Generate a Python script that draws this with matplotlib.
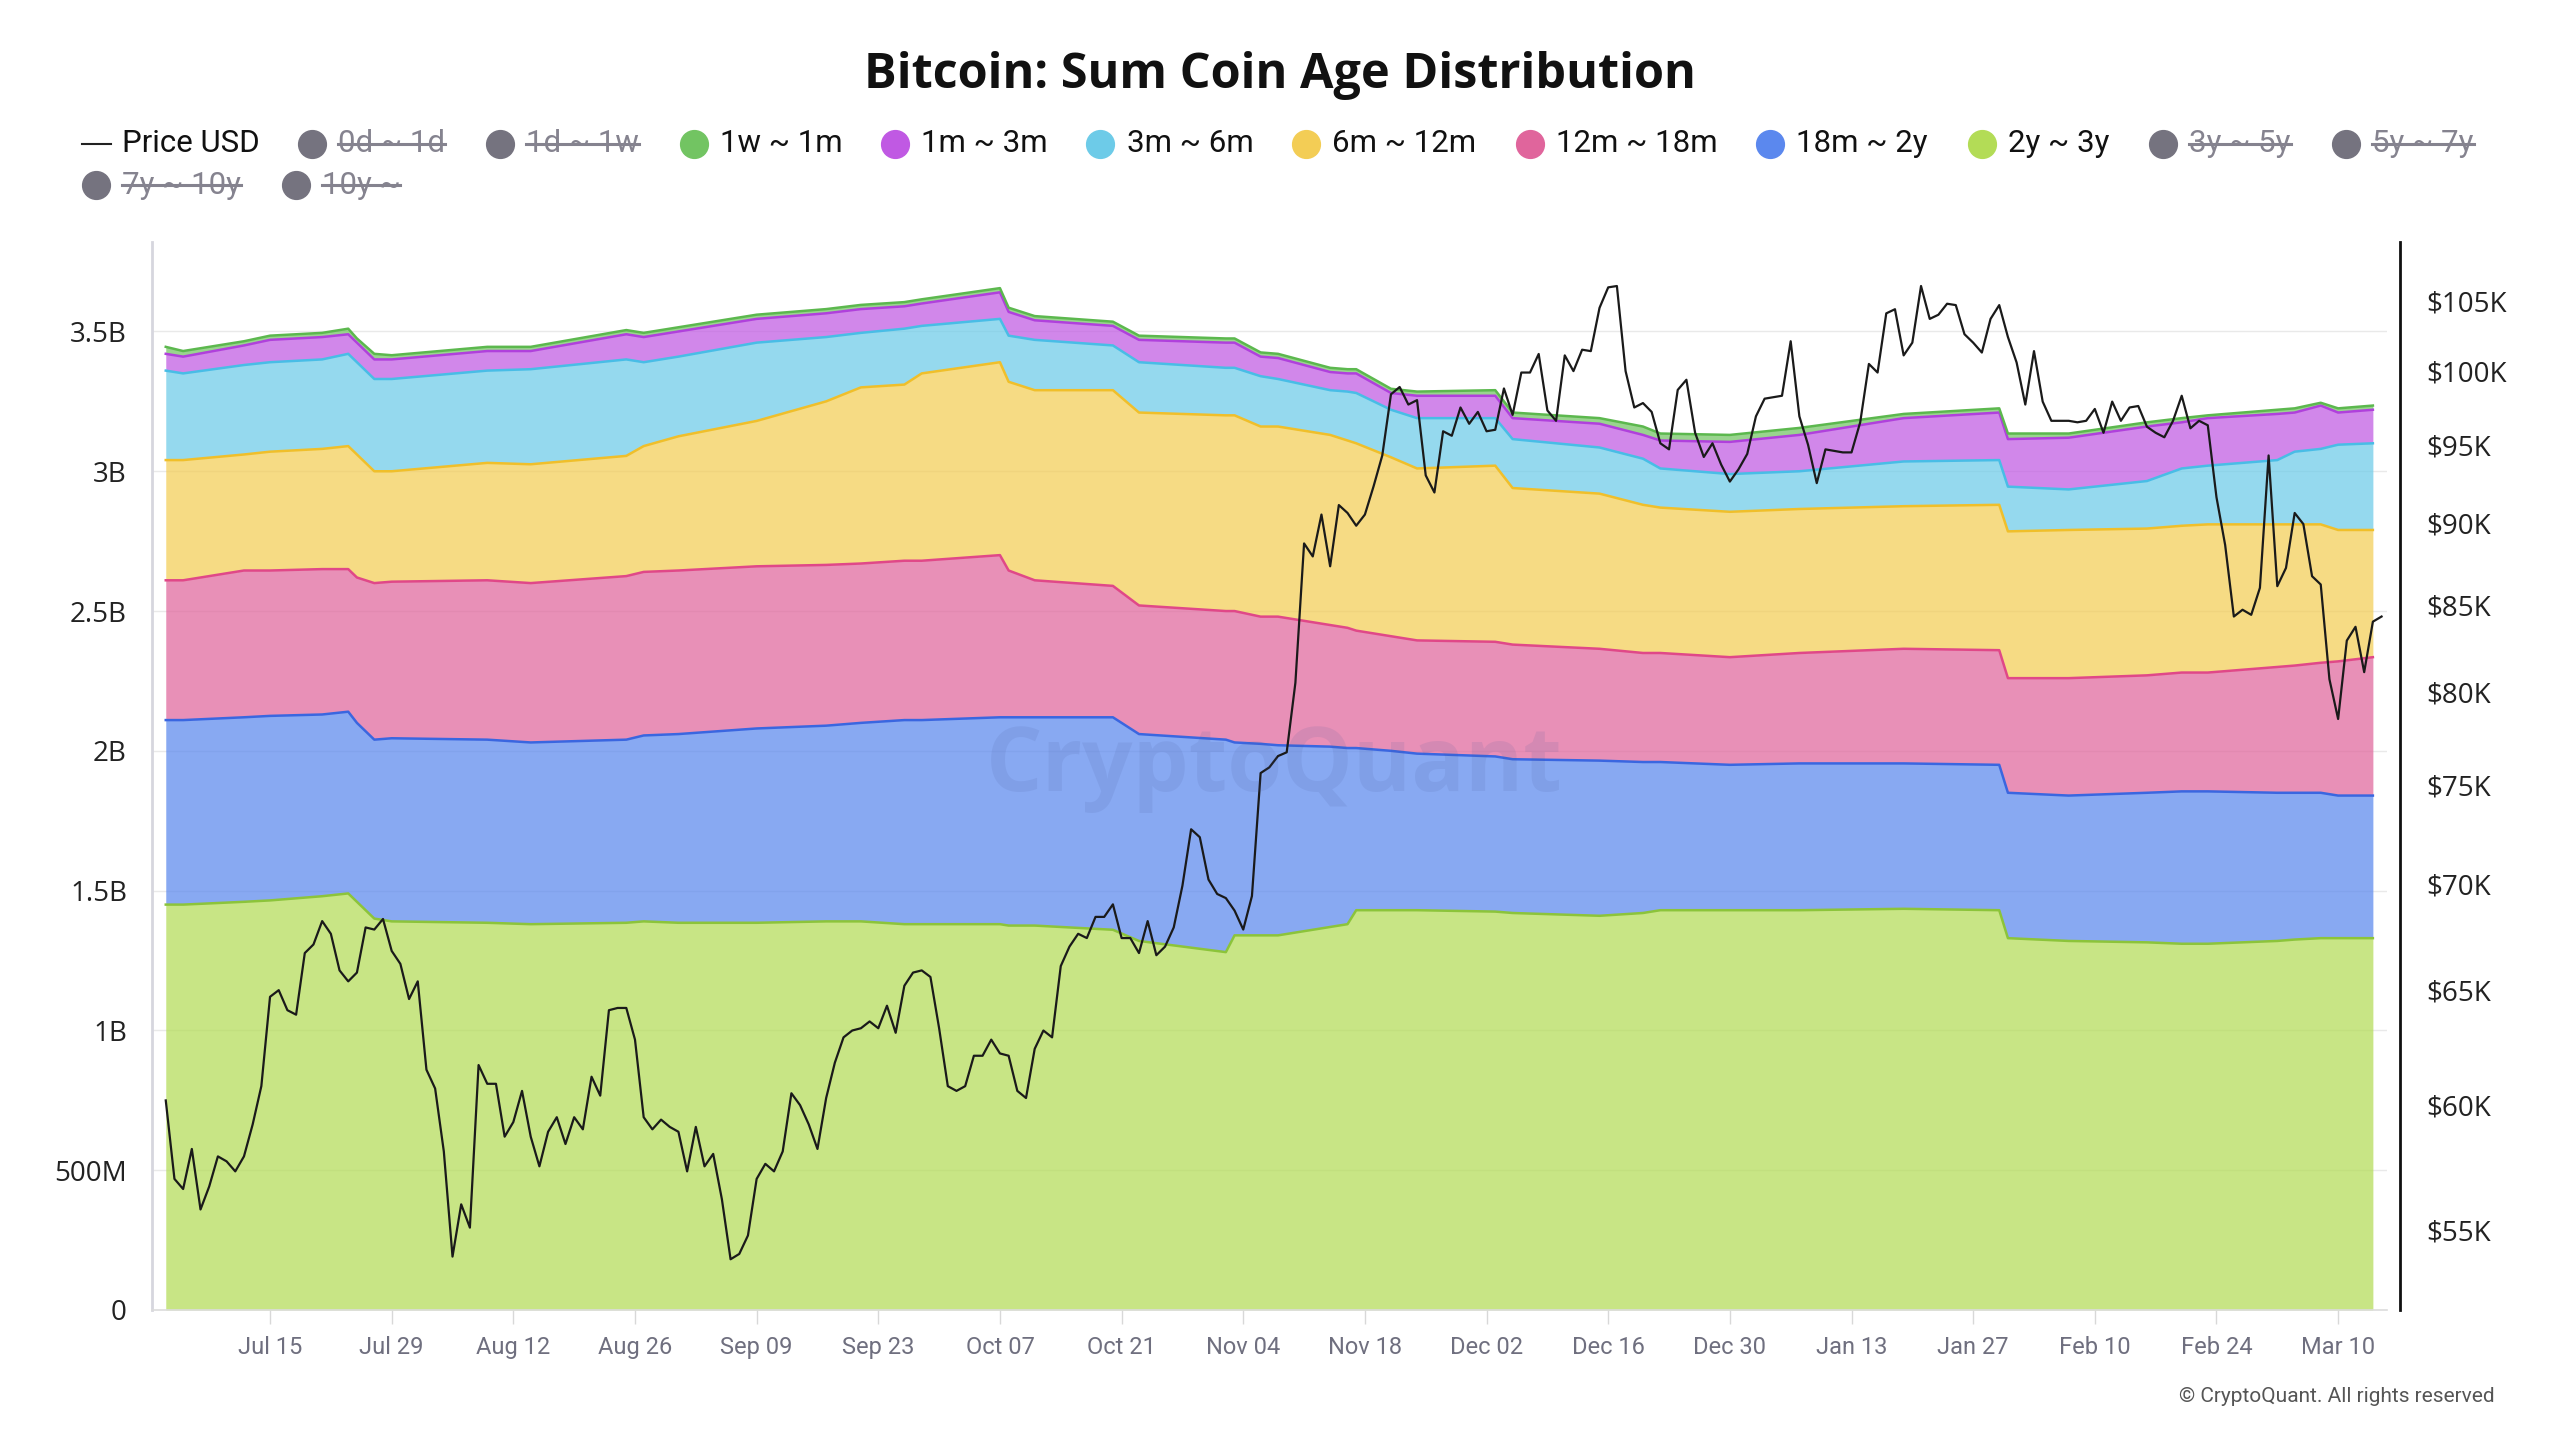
import numpy as np
import pandas as pd
import matplotlib
matplotlib.use("Agg")
import matplotlib.pyplot as plt
from matplotlib import font_manager
from matplotlib.lines import Line2D
from matplotlib.transforms import IdentityTransform
from matplotlib.ticker import NullLocator

# --- data: coin age bands (billions) ---
area_dates = ['2024-07-03', '2024-07-05', '2024-07-12', '2024-07-15', '2024-07-21', '2024-07-24',
              '2024-07-25', '2024-07-27', '2024-07-29', '2024-08-09', '2024-08-14', '2024-08-25',
              '2024-08-27', '2024-08-31', '2024-09-09', '2024-09-17', '2024-09-21', '2024-09-26',
              '2024-09-28', '2024-10-07', '2024-10-08', '2024-10-11', '2024-10-20', '2024-10-23',
              '2024-11-02', '2024-11-03', '2024-11-06', '2024-11-08', '2024-11-14', '2024-11-16',
              '2024-11-17', '2024-11-21', '2024-11-24', '2024-12-03', '2024-12-05', '2024-12-15',
              '2024-12-20', '2024-12-22', '2024-12-30', '2025-01-07', '2025-01-19', '2025-01-30',
              '2025-01-31', '2025-02-07', '2025-02-16', '2025-02-20', '2025-02-23', '2025-03-03',
              '2025-03-05', '2025-03-08', '2025-03-10', '2025-03-14']

band_2y_3y = [1.45, 1.45, 1.46, 1.465, 1.48, 1.49, 1.46, 1.40, 1.39, 1.385, 1.38, 1.385, 1.39,
              1.385, 1.385, 1.39, 1.39, 1.38, 1.38, 1.38, 1.375, 1.375, 1.36, 1.32, 1.28, 1.34,
              1.34, 1.34, 1.37, 1.38, 1.43, 1.43, 1.43, 1.425, 1.42, 1.41, 1.42, 1.43, 1.43, 1.43,
              1.435, 1.43, 1.33, 1.32, 1.315, 1.31, 1.31, 1.32, 1.325, 1.33, 1.33, 1.33]
band_18m_2y = [.66, .66, .66, .66, .65, .65, .64, .64, .655, .655, .65, .655, .665, .675, .695,
               .70, .71, .73, .73, .74, .745, .745, .76, .74, .76, .69, .685, .68, .645, .63, .58,
               .57, .56, .555, .55, .555, .54, .53, .52, .525, .52, .52, .52, .52, .535, .545, .545,
               .53, .525, .52, .51, .51]
band_12m_18m = [.50, .50, .525, .52, .52, .51, .52, .56, .56, .57, .57, .585, .585, .585, .58,
                .575, .57, .57, .57, .58, .525, .49, .47, .46, .46, .47, .455, .46, .435, .43, .42,
                .41, .405, .41, .41, .40, .39, .39, .385, .395, .41, .41, .41, .42, .42, .425, .425,
                .45, .455, .465, .48, .495]
band_6m_12m = [.43, .43, .415, .425, .43, .44, .44, .40, .395, .42, .425, .43, .45, .48, .52, .585,
               .63, .63, .67, .69, .675, .68, .70, .69, .70, .70, .68, .68, .68, .67, .67, .64,
               .615, .63, .56, .555, .53, .52, .52, .515, .51, .52, .525, .53, .525, .525, .53,
               .51, .505, .495, .47, .455]
band_3m_6m = [.32, .31, .32, .32, .32, .33, .33, .33, .33, .33, .34, .345, .30, .285, .28, .23,
              .195, .20, .17, .155, .165, .18, .16, .18, .17, .17, .18, .17, .16, .175, .18, .17,
              .18, .17, .175, .165, .165, .14, .135, .135, .16, .16, .16, .145, .17, .205, .21,
              .23, .26, .27, .305, .31]
band_1m_3m = [.06, .06, .07, .08, .08, .07, .07, .07, .07, .07, .065, .09, .09, .09, .085, .085,
              .085, .08, .08, .095, .085, .07, .07, .08, .09, .09, .07, .075, .065, .065, .07, .06,
              .08, .08, .075, .085, .085, .10, .115, .13, .155, .17, .17, .185, .195, .165, .17,
              .165, .14, .155, .115, .12]
band_1w_1m = [.025, .02, .015, .015, .015, .02, .015, .02, .015, .015, .015, .015, .015, .015,
              .015, .015, .015, .015, .015, .015, .015, .015, .015, .015, .015, .015, .015, .015,
              .015, .015, .015, .015, .015, .02, .02, .02, .03, .025, .025, .025, .015, .015, .02,
              .015, .015, .015, .01, .015, .015, .01, .015, .015]

# --- data: daily BTC price (thousand USD), 2024-07-03 .. 2025-03-15 ---
price_start = '2024-07-03'
price_k = [
    60.2, 57.0, 56.6, 58.2, 55.8, 56.7, 57.9, 57.7, 57.3, 57.9, 59.2, 60.8, 64.7, 65.0, 64.1,
    63.9, 66.7, 67.1, 68.2, 67.6, 65.9, 65.4, 65.8, 67.9, 67.8, 68.3, 66.8, 66.2, 64.6,
    65.4, 61.5, 60.7, 58.1, 54.0, 56.0, 55.1, 61.7, 60.9, 60.9, 58.7, 59.3, 60.6, 58.7, 57.5,
    58.9, 59.5, 58.4, 59.5, 59.0, 61.2, 60.4, 64.1, 64.2, 64.2, 62.8, 59.5, 59.0, 59.4, 59.1, 58.9,
    57.3, 59.1, 57.5, 58.0, 56.2, 53.9, 54.1, 54.8, 57.0, 57.6, 57.3, 58.1, 60.5, 60.0, 59.2,
    58.2, 60.3, 61.8, 62.9, 63.2, 63.3, 63.6, 63.3, 64.3, 63.1, 65.2, 65.8, 65.9, 65.6, 63.3,
    60.8, 60.6, 60.8, 62.1, 62.1, 62.8, 62.2, 62.1, 60.6, 60.3, 62.4, 63.2, 62.9, 66.1, 67.0,
    67.6, 67.4, 68.4, 68.4, 69.0, 67.4, 67.4, 66.7, 68.2, 66.6, 67.0, 67.9, 69.9, 72.7, 72.3, 70.2,
    69.5, 69.3, 68.7, 67.8, 69.4, 75.6, 75.9, 76.5, 76.7, 80.5, 88.7, 87.9, 90.5, 87.3, 91.1,
    90.6, 89.8, 90.5, 92.3, 94.3, 98.4, 98.9, 97.7, 98.0, 93.0, 91.9, 95.9, 95.6, 97.5, 96.4,
    97.2, 95.9, 96.0, 98.8, 97.0, 99.9, 99.9, 101.2, 97.3, 96.6, 101.1, 100.0, 101.5, 101.4, 104.5,
    106.0, 106.1, 100.0, 97.5, 97.8, 97.2, 95.1, 94.7, 98.7, 99.4, 95.8, 94.2, 95.1, 93.7, 92.6, 93.4,
    94.4, 96.9, 98.1, 98.2, 98.3, 102.1, 96.9, 95.0, 92.5, 94.7, 94.6, 94.5, 94.5, 96.5, 100.5,
    99.9, 104.1, 104.4, 101.1, 102.0, 106.1, 103.7, 104.0, 104.8, 104.7, 102.6, 102.0, 101.3, 103.7,
    104.7, 102.4,
    100.6, 97.7, 101.4, 97.9, 96.6, 96.6, 96.6, 96.5, 96.6, 97.4, 95.8, 97.9, 96.6, 97.5, 97.6,
    96.2, 95.8, 95.5, 96.6, 98.3, 96.1, 96.6, 96.3, 91.6, 88.6, 84.3, 84.7, 84.4,
    86.0, 94.3, 86.1, 87.2, 90.6, 89.9, 86.7, 86.2, 80.7, 78.5, 82.9, 83.7, 81.1, 84.0, 84.3,
]

left_ticks = [0, 0.5, 1, 1.5, 2, 2.5, 3, 3.5]
left_labels = ['0', '500M', '1B', '1.5B', '2B', '2.5B', '3B', '3.5B']
right_ticks = [55, 60, 65, 70, 75, 80, 85, 90, 95, 100, 105]
right_labels = ['$55K', '$60K', '$65K', '$70K', '$75K', '$80K', '$85K', '$90K', '$95K', '$100K', '$105K']

legend_labels = ['0d ~ 1d', '1d ~ 1w', '1w ~ 1m', '1m ~ 3m', '3m ~ 6m', '6m ~ 12m', '12m ~ 18m',
                 '18m ~ 2y', '2y ~ 3y', '3y ~ 5y', '5y ~ 7y', '7y ~ 10y', '10y ~']
legend_hidden = [True, True, False, False, False, False, False, False, False, True, True, True, True]

# --- styles ---
installed = {f.name for f in font_manager.fontManager.ttflist}
narrow = 'Liberation Sans Narrow' if 'Liberation Sans Narrow' in installed else 'Roboto'
plt.rcParams['font.family'] = ['Open Sans', 'DejaVu Sans']

band_colors = ['#b3dc56', '#5b88ee', '#e0659c', '#f3cd55', '#6dcbe8', '#c059e3', '#72c462']
edge_colors = ['#8cc43a', '#3a66e0', '#e04888', '#f0bf2a', '#48bde6', '#b040dc', '#5cb84e']
legend_colors = {'1w ~ 1m': '#72c462', '1m ~ 3m': '#c059e3', '3m ~ 6m': '#6dcbe8',
                 '6m ~ 12m': '#f3cd55', '12m ~ 18m': '#e0659c', '18m ~ 2y': '#5b88ee',
                 '2y ~ 3y': '#b3dc56'}

W, H = 2560, 1440
S = W / 1568.0

fig = plt.figure(figsize=(25.6, 14.4), dpi=100)
ax = fig.add_axes([152 / W, 1 - 1310 / H, (2387 - 152) / W, (1310 - 242) / H])

dates = pd.to_datetime(area_dates)
bands = [band_2y_3y, band_18m_2y, band_12m_18m, band_6m_12m, band_3m_6m, band_1m_3m, band_1w_1m]
tops = np.cumsum(np.array(bands), axis=0)
lower = np.zeros(len(dates))
for i in range(len(bands)):
    ax.fill_between(dates, lower, tops[i], color=band_colors[i], alpha=0.72, lw=0, zorder=2)
    lower = tops[i]
for i in range(len(bands)):
    ax.plot(dates, tops[i], color=edge_colors[i], lw=1.8, zorder=3)

ax.set_ylim(0, 3.82)
ax.set_yticks(left_ticks)
ax.set_yticklabels(left_labels)
ax.set_xlim(pd.Timestamp('2024-07-01 10:00'), pd.Timestamp('2025-03-15 15:00'))
xt = pd.date_range('2024-07-15', '2025-03-10', freq='14D')
ax.set_xticks(xt)
ax.set_xticklabels([d.strftime('%b %d') for d in xt], fontfamily=narrow)
ax.yaxis.grid(True, color='#e9e9e9', lw=1.0)
ax.set_axisbelow(True)
ax.tick_params(axis='x', direction='out', length=10, width=1, color='#d8d8d8',
               labelcolor='#6f6f7f', labelsize=17, pad=9)
ax.tick_params(axis='y', length=0, pad=18, labelsize=20, labelcolor='#222222')
for s in ['top', 'right']:
    ax.spines[s].set_visible(False)
ax.spines['left'].set_color('#d6d6de')
ax.spines['left'].set_linewidth(2)
ax.spines['bottom'].set_color('#dcdcdc')
ax.spines['bottom'].set_linewidth(1.2)

# price on log right axis
ax2 = ax.twinx()
pdates = pd.date_range(price_start, periods=len(price_k), freq='D')
ax2.plot(pdates, np.array(price_k) * 1000, color='#1a1a1a', lw=1.6, zorder=5)
ax2.set_yscale('log')
ax2.set_ylim(52030, 109400)
ax2.set_yticks([v * 1000 for v in right_ticks])
ax2.set_yticklabels(right_labels)
ax2.yaxis.set_minor_locator(NullLocator())
ax2.tick_params(axis='y', length=0, pad=19, labelsize=20, labelcolor='#222222')
for s in ['top', 'left', 'bottom']:
    ax2.spines[s].set_visible(False)
ax2.spines['right'].set_color('#111111')
ax2.spines['right'].set_linewidth(2)
ax2.spines['right'].set_position(('outward', 9))

# watermark
fig.text(1274 / W, 1 - 768 / H, 'CryptoQuant', ha='center', va='center', fontsize=64,
         fontweight='bold', color='#4a5a9a', alpha=0.12)

# title
fig.text(0.5, 1 - 75 / H, 'Bitcoin: Sum Coin Age Distribution', ha='center', va='center',
         fontsize=35, fontweight='bold', color='#111111')

# legend
row_y = [88 * S, 113.5 * S]
legend_x = [191, 306, 425, 548, 674, 800, 937, 1084, 1214, 1325, 1437, 59, 181]
legend_row = [0] * 11 + [1, 1]

py = 1 - row_y[0] / H
fig.add_artist(Line2D([50 * S / W, 68 * S / W], [py, py], color='#222222', lw=1.5,
                      transform=fig.transFigure))
fig.text(75 * S / W, py, 'Price USD', ha='left', va='center', fontsize=22.5, color='#111111',
         family=narrow)

struck = []
for i, lab in enumerate(legend_labels):
    mx = legend_x[i] * S
    my = 1 - row_y[legend_row[i]] / H
    c = '#75737f' if legend_hidden[i] else legend_colors[lab]
    fig.add_artist(Line2D([mx / W], [my], marker='o', ms=20, color=c, lw=0,
                          transform=fig.transFigure))
    t = fig.text((mx + 16 * S) / W, my, lab, ha='left', va='center', fontsize=22.5,
                 color='#85838f' if legend_hidden[i] else '#111111', family=narrow)
    if legend_hidden[i]:
        struck.append(t)

fig.text(2495 / W, 1 - 1396 / H, '\u00a9 CryptoQuant. All rights reserved', ha='right',
         va='center', fontsize=15, color='#555555', family=narrow)

fig.canvas.draw()
for t in struck:
    bb = t.get_window_extent()
    ym = (bb.y0 + bb.y1) / 2
    fig.add_artist(Line2D([bb.x0, bb.x1], [ym, ym], color='#85838f', lw=2.2,
                          transform=IdentityTransform()))

fig.savefig('out.png', dpi=100)
